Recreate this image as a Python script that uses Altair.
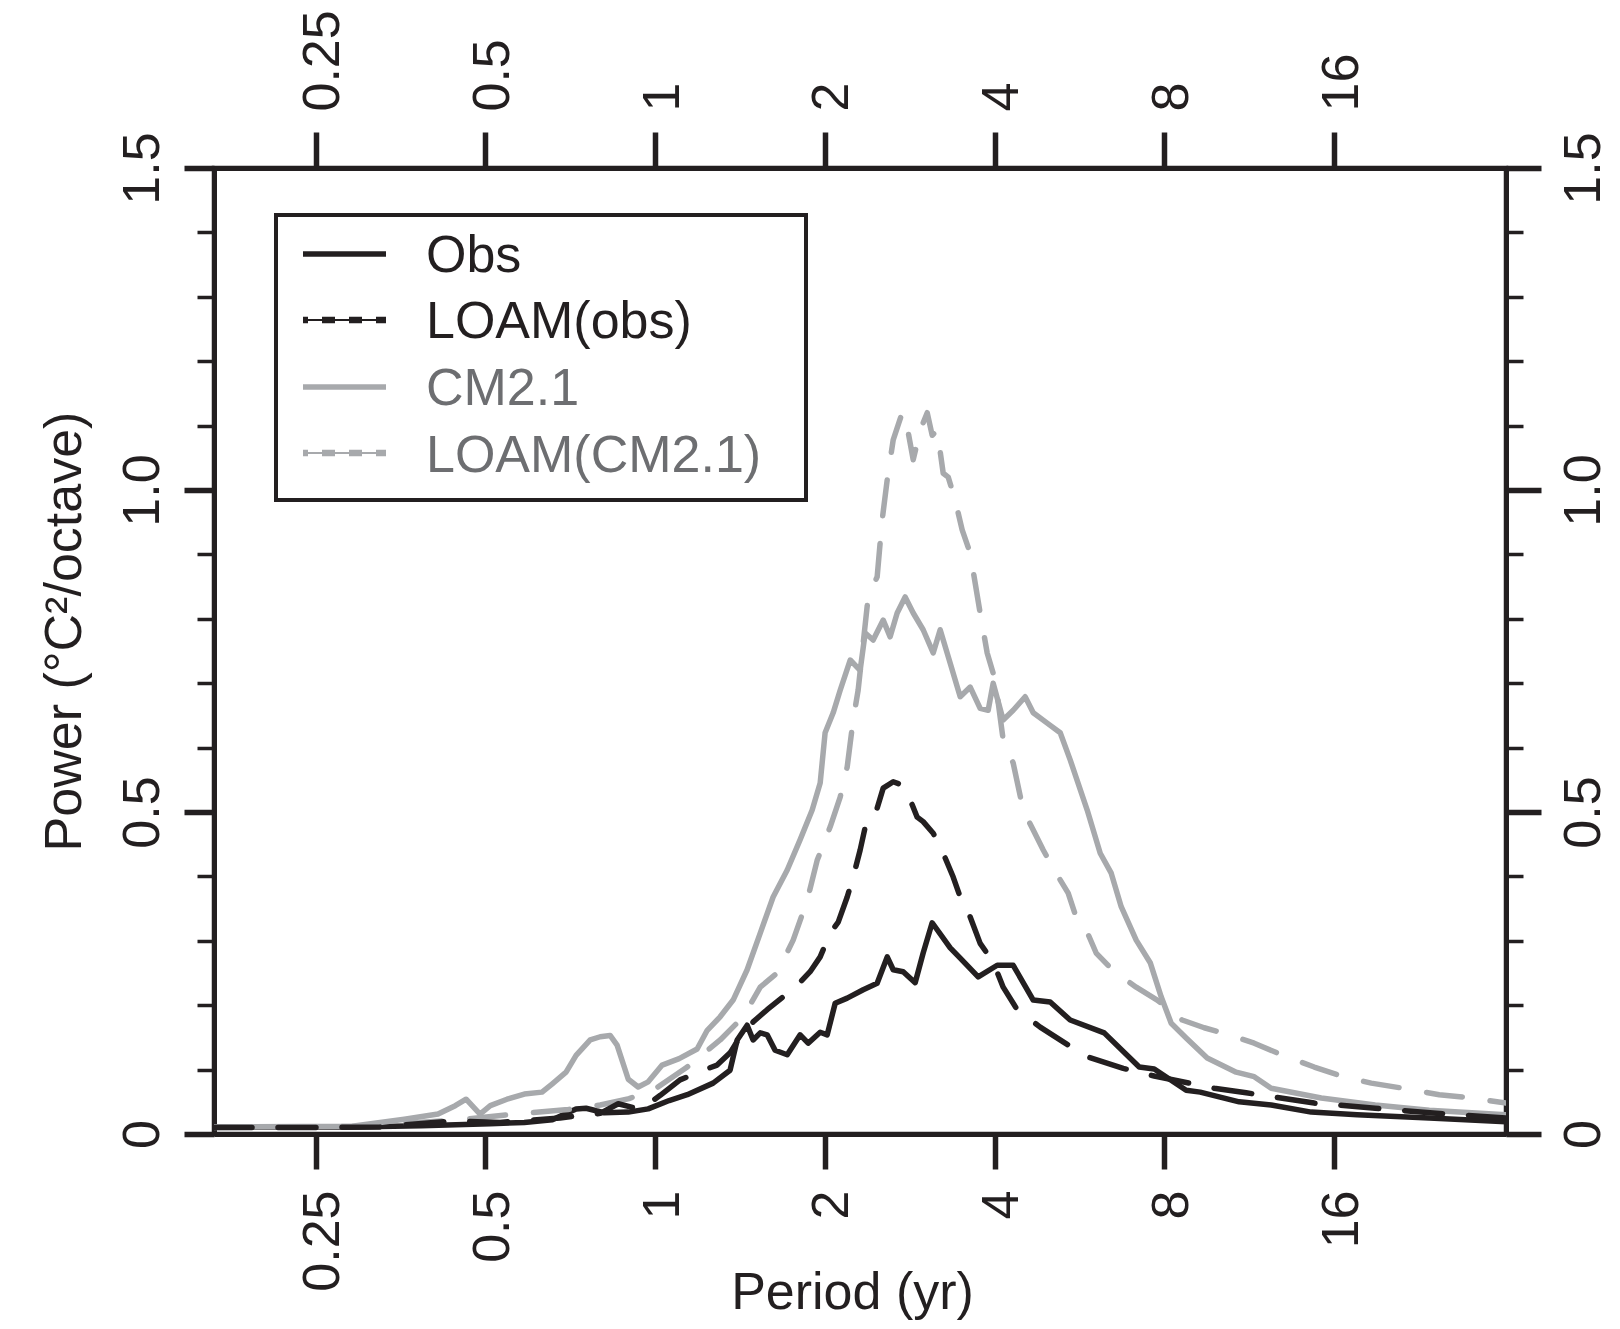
import altair as alt
import pandas as pd

# ---------------- data ----------------
obs_period = [0.165, 0.290, 0.385, 0.510, 0.586, 0.657, 0.724, 0.754, 0.812, 0.896, 0.972, 1.059,
              1.140, 1.267, 1.358, 1.398, 1.456, 1.492, 1.536, 1.580, 1.632, 1.715, 1.808, 1.868,
              1.962, 2.019, 2.086, 2.191, 2.339, 2.476, 2.580, 2.644, 2.754, 2.892, 2.988, 3.100,
              3.337, 3.476, 3.741, 4.043, 4.316, 4.684, 5.020, 5.447, 6.259, 7.221, 7.678, 8.747,
              9.263, 10.86, 12.38, 14.58, 17.59, 23.61, 32.3]
obs_power = [0.011, 0.011, 0.013, 0.016, 0.018, 0.022, 0.039, 0.040, 0.033, 0.034, 0.039, 0.052,
             0.061, 0.079, 0.099, 0.146, 0.169, 0.146, 0.157, 0.154, 0.130, 0.123, 0.154, 0.141,
             0.158, 0.154, 0.203, 0.211, 0.224, 0.234, 0.275, 0.255, 0.252, 0.235, 0.281, 0.328,
             0.289, 0.273, 0.244, 0.262, 0.262, 0.208, 0.205, 0.177, 0.157, 0.104, 0.101, 0.068,
             0.065, 0.050, 0.045, 0.034, 0.030, 0.025, 0.019]

loam_obs_period = [0.165, 0.235, 0.325, 0.436, 0.531, 0.678, 0.799, 0.860, 0.941, 1.021, 1.107,
                   1.217, 1.288, 1.358, 1.415, 1.492, 1.580, 1.687, 1.786, 1.883, 1.962, 2.044,
                   2.112, 2.191, 2.245, 2.310, 2.378, 2.476, 2.538, 2.644, 2.743, 2.834, 2.916,
                   2.988, 3.113, 3.243, 3.378, 3.476, 3.621, 3.771, 3.977, 4.143, 4.387, 4.819,
                   5.294, 5.839, 6.764, 7.678, 9.807, 11.18, 14.76, 18.93, 25.30, 32.3]
loam_obs_power = [0.010, 0.010, 0.011, 0.020, 0.018, 0.025, 0.032, 0.047, 0.038, 0.060, 0.084,
                  0.099, 0.107, 0.126, 0.151, 0.174, 0.193, 0.213, 0.231, 0.252, 0.275, 0.312,
                  0.329, 0.368, 0.399, 0.441, 0.491, 0.506, 0.537, 0.547, 0.542, 0.519, 0.492,
                  0.485, 0.467, 0.436, 0.399, 0.368, 0.337, 0.296, 0.267, 0.228, 0.193, 0.166,
                  0.143, 0.120, 0.102, 0.090, 0.071, 0.064, 0.048, 0.040, 0.031, 0.025]

cm21_period = [0.165, 0.290, 0.359, 0.412, 0.442, 0.462, 0.489, 0.510, 0.546, 0.586, 0.630, 0.657,
               0.695, 0.724, 0.767, 0.799, 0.832, 0.856, 0.896, 0.933, 0.972, 1.029, 1.103, 1.187,
               1.237, 1.304, 1.375, 1.456, 1.536, 1.619, 1.715, 1.808, 1.899, 1.962, 2.002, 2.069,
               2.129, 2.218, 2.310, 2.358, 2.436, 2.538, 2.611, 2.687, 2.776, 2.869, 2.988, 3.113,
               3.203, 3.337, 3.476, 3.621, 3.771, 3.897, 3.977, 4.143, 4.316, 4.532, 4.684, 4.959,
               5.230, 5.447, 5.839, 6.158, 6.441, 6.709, 7.133, 7.553, 7.899, 8.229, 8.747, 9.532,
               10.73, 11.55, 12.38, 15.19, 18.93, 23.61, 32.3]
cm21_power = [0.011, 0.012, 0.023, 0.031, 0.044, 0.054, 0.031, 0.044, 0.054, 0.062, 0.065, 0.078,
              0.096, 0.122, 0.146, 0.151, 0.153, 0.138, 0.085, 0.073, 0.081, 0.107, 0.117, 0.132,
              0.161, 0.182, 0.208, 0.255, 0.312, 0.368, 0.410, 0.457, 0.503, 0.545, 0.623, 0.654,
              0.689, 0.736, 0.720, 0.778, 0.767, 0.798, 0.772, 0.809, 0.834, 0.809, 0.783, 0.747,
              0.783, 0.731, 0.679, 0.694, 0.661, 0.658, 0.700, 0.643, 0.658, 0.679, 0.654, 0.638,
              0.623, 0.581, 0.503, 0.436, 0.405, 0.353, 0.301, 0.266, 0.213, 0.172, 0.149, 0.118,
              0.096, 0.089, 0.071, 0.056, 0.045, 0.037, 0.030]

loam_cm21_period = [0.165, 0.300, 0.449, 0.548, 0.701, 0.799, 0.899, 1.0, 1.140, 1.304, 1.433,
                    1.536, 1.646, 1.757, 1.861, 1.938, 2.044, 2.129, 2.191, 2.245, 2.291, 2.387,
                    2.476, 2.527, 2.580, 2.644, 2.743, 2.799, 2.869, 2.952, 3.038, 3.100, 3.164,
                    3.243, 3.310, 3.406, 3.504, 3.621, 3.771, 3.881, 4.010, 4.143, 4.316, 4.496,
                    4.684, 4.879, 5.103, 5.403, 5.605, 5.815, 6.057, 6.520, 7.133, 7.772, 8.607,
                    9.416, 10.43, 11.55, 13.16, 14.76, 16.61, 18.63, 21.58, 24.59, 28.03, 32.3]
loam_cm21_power = [0.010, 0.012, 0.022, 0.030, 0.038, 0.045, 0.055, 0.070, 0.104, 0.146, 0.182,
                   0.228, 0.250, 0.301, 0.363, 0.425, 0.477, 0.523, 0.570, 0.643, 0.689, 0.834,
                   0.865, 0.953, 1.016, 1.078, 1.120, 1.098, 1.047, 1.093, 1.120, 1.085, 1.093,
                   1.026, 1.020, 0.984, 0.938, 0.902, 0.809, 0.747, 0.705, 0.612, 0.576, 0.503,
                   0.472, 0.441, 0.410, 0.374, 0.332, 0.317, 0.281, 0.252, 0.228, 0.208, 0.177,
                   0.165, 0.154, 0.141, 0.120, 0.104, 0.089, 0.079, 0.070, 0.061, 0.056, 0.048]

x_ticks = [0.25, 0.5, 1, 2, 4, 8, 16]
y_major = [0, 0.5, 1.0, 1.5]
y_minor = [0.1, 0.2, 0.3, 0.4, 0.6, 0.7, 0.8, 0.9, 1.1, 1.2, 1.3, 1.4]
legend_labels = ["Obs", "LOAM(obs)", "CM2.1", "LOAM(CM2.1)"]

# ---------------- styles ----------------
BLACK = "#231f20"
GREY = "#a7a9ac"
GREY_TEXT = "#6d6e71"
FONT = "Liberation Sans"
FS = 52
LW = 5.5


def frame(p, v):
    return pd.DataFrame({"period": p, "power": v})


df_obs = frame(obs_period, obs_power)
df_loam_obs = frame(loam_obs_period, loam_obs_power)
df_cm = frame(cm21_period, cm21_power)
df_loam_cm = frame(loam_cm21_period, loam_cm21_power)

xscale = alt.Scale(type="log", base=2, domain=[0.165, 32.3], nice=False, zero=False)
yscale = alt.Scale(domain=[0, 1.5], nice=False, zero=False)


def series(d, color, dash=None):
    kw = dict(color=color, strokeWidth=LW, strokeCap="round", strokeJoin="round", clip=True)
    if dash is not None:
        kw["strokeDash"] = dash
    return alt.Chart(d).mark_line(**kw).encode(
        x=alt.X("period:Q", scale=xscale, axis=None),
        y=alt.Y("power:Q", scale=yscale, axis=None),
    )


common = dict(domainColor=BLACK, domainWidth=5, tickColor=BLACK, labelColor=BLACK,
              labelFont=FONT, labelFontSize=FS, grid=False, labelOverlap=False,
              labelFlush=False, labelBound=False)
ylab = "datum.value == 0 ? '0' : format(datum.value, '.1f')"

ax_bottom = alt.Axis(orient="bottom", values=x_ticks, format="~g", tickSize=35, tickWidth=5.5,
                     labelAngle=270, labelAlign="right", labelBaseline="middle", labelPadding=21,
                     labelOffset=7, title="Period (yr)", titleFont=FONT, titleFontSize=FS,
                     titleFontWeight="normal", titleColor=BLACK, titleX=638, titleY=174,
                     titleAlign="center", titleBaseline="alphabetic", titleAngle=0, **common)
ax_top = alt.Axis(orient="top", values=x_ticks, format="~g", tickSize=36, tickWidth=5.5,
                  labelAngle=270, labelAlign="left", labelBaseline="middle", labelPadding=21,
                  labelOffset=7, title=None, **common)
ax_left_major = alt.Axis(orient="left", values=y_major, labelExpr=ylab, tickSize=30, tickWidth=5.5,
                         labelAngle=270, labelAlign="center", labelBaseline="alphabetic",
                         labelPadding=26, title="Power (°C²/octave)", titleFont=FONT,
                         titleFontSize=FS, titleFontWeight="normal", titleColor=BLACK,
                         titleX=-134, titleY=463, titleAngle=270, titleAlign="center",
                         titleBaseline="alphabetic", **common)
ax_left_minor = alt.Axis(orient="left", values=y_minor, labels=False, tickSize=17, tickWidth=3.5,
                         title=None, **common)
ax_right_major = alt.Axis(orient="right", values=y_major, labelExpr=ylab, tickSize=35, tickWidth=5.5,
                          labelAngle=270, labelAlign="center", labelBaseline="top",
                          labelPadding=17, title=None, **common)
ax_right_minor = alt.Axis(orient="right", values=y_minor, labels=False, tickSize=17, tickWidth=3.5,
                          title=None, **common)

axes_base = alt.Chart(df_obs).mark_point(opacity=0, size=1)


def axes_layer(xa, ya):
    return axes_base.encode(
        x=alt.X("period:Q", scale=xscale, axis=xa),
        y=alt.Y("power:Q", scale=yscale, axis=ya),
    )


ax1 = axes_layer(ax_bottom, ax_left_major)
ax2 = axes_layer(ax_top, ax_left_minor)
ax3 = axes_layer(None, ax_right_major)
ax4 = axes_layer(None, ax_right_minor)

l_obs = series(df_obs, BLACK)
l_cm = series(df_cm, GREY)
l_loam_cm = series(df_loam_cm, GREY, [36, 28])
l_loam_obs = series(df_loam_obs, BLACK, [38, 26])

# ---------------- legend (drawn in pixel space of the plot) ----------------
one = pd.DataFrame({"k": [0]})
leg_box = alt.Chart(one).mark_rect(fill="white", stroke=BLACK, strokeWidth=4).encode(
    x=alt.value(62), x2=alt.value(592), y=alt.value(47), y2=alt.value(332))

row_y = [86, 152, 219, 285]
text_y = [104, 170, 237, 304]
LX1, LX2, TX = 89, 172, 212

leg_layers = [leg_box]
leg_layers.append(alt.Chart(one).mark_rule(color=BLACK, strokeWidth=5.5).encode(
    x=alt.value(LX1), x2=alt.value(LX2), y=alt.value(row_y[0])))
leg_layers.append(alt.Chart(one).mark_rule(color=BLACK, strokeWidth=2).encode(
    x=alt.value(LX1), x2=alt.value(LX2), y=alt.value(row_y[1])))
leg_layers.append(alt.Chart(one).mark_rule(color=BLACK, strokeWidth=6.5, strokeDash=[13, 14],
                                           strokeDashOffset=8).encode(
    x=alt.value(LX1), x2=alt.value(LX2), y=alt.value(row_y[1])))
leg_layers.append(alt.Chart(one).mark_rule(color=GREY, strokeWidth=5.5).encode(
    x=alt.value(LX1), x2=alt.value(LX2), y=alt.value(row_y[2])))
leg_layers.append(alt.Chart(one).mark_rule(color=GREY, strokeWidth=2).encode(
    x=alt.value(LX1), x2=alt.value(LX2), y=alt.value(row_y[3])))
leg_layers.append(alt.Chart(one).mark_rule(color=GREY, strokeWidth=6.5, strokeDash=[13, 14],
                                           strokeDashOffset=8).encode(
    x=alt.value(LX1), x2=alt.value(LX2), y=alt.value(row_y[3])))

text_colors = [BLACK, BLACK, GREY_TEXT, GREY_TEXT]
for lab, ty, tc in zip(legend_labels, text_y, text_colors):
    leg_layers.append(alt.Chart(one).mark_text(text=lab, font=FONT, fontSize=FS, align="left",
                                               baseline="alphabetic", color=tc).encode(
        x=alt.value(TX), y=alt.value(ty)))

chart = alt.layer(
    ax1, ax2, ax3, ax4,
    l_obs, l_cm, l_loam_cm, l_loam_obs,
    *leg_layers,
).resolve_axis(x="independent", y="independent").properties(
    width=1292, height=966,
    padding={"left": 206, "top": 160, "right": 106, "bottom": 186},
    autosize=alt.AutoSizeParams(type="none"),
    background="white",
).configure_view(stroke=BLACK, strokeWidth=4.5)

chart.save("out.html", embed_options={"renderer": "svg", "actions": False})
